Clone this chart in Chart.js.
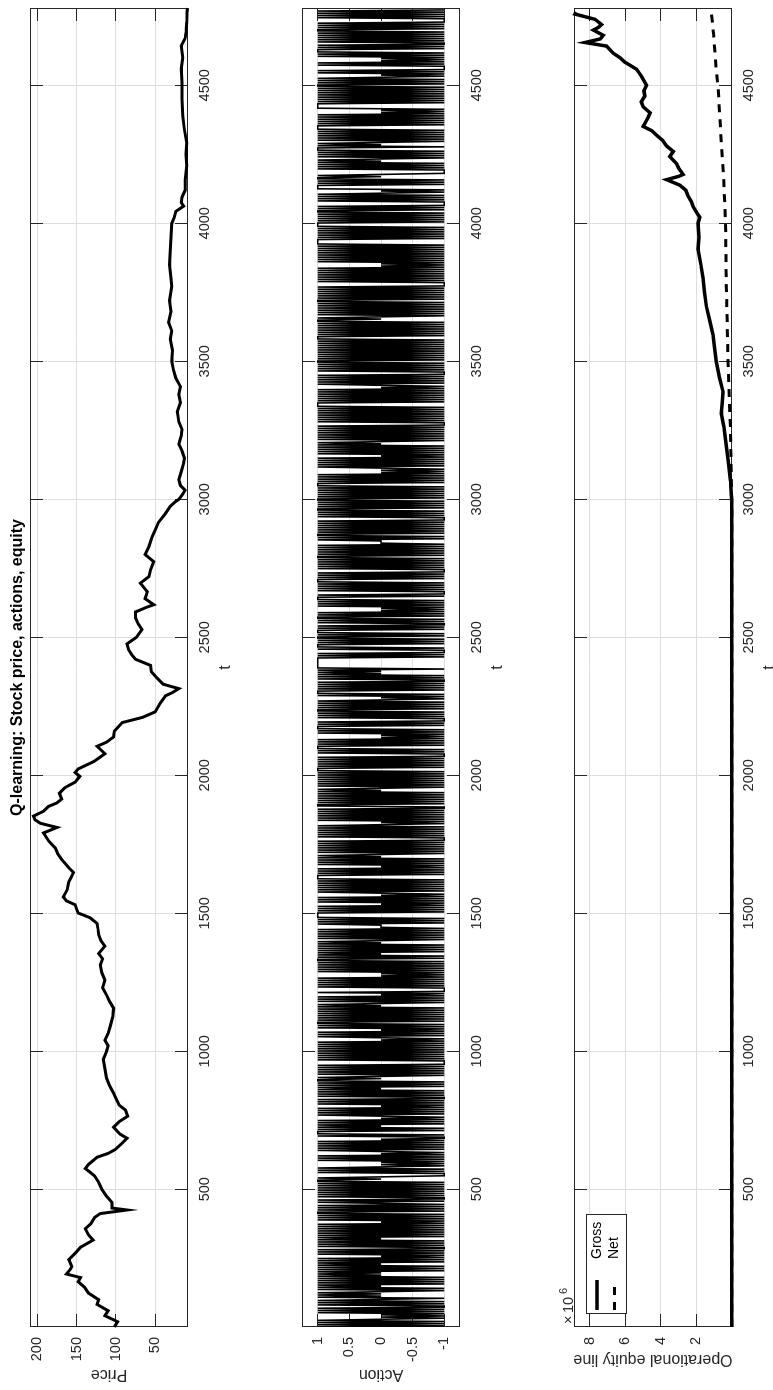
<!DOCTYPE html>
<html>
<head>
<meta charset="utf-8">
<script src="https://cdn.jsdelivr.net/npm/chart.js@4/dist/chart.umd.min.js"></script>
<style>
html,body{margin:0;padding:0;background:#fff;overflow:hidden;}
#page{position:relative;width:773px;height:1390px;overflow:hidden;background:#fff;}
#fig{position:absolute;left:0;top:0;width:1390px;height:773px;transform-origin:0 0;transform:translate(0,1390px) rotate(-90deg);background:#fff;}
#fig canvas{position:absolute;left:0;}
</style>
</head>
<body>
<div id="page"><div id="fig">
  <canvas id="cPrice" width="1390" height="272" style="top:0"></canvas>
  <canvas id="cAction" width="1390" height="272" style="top:272px"></canvas>
  <canvas id="cEquity" width="1390" height="229" style="top:544px"></canvas>
</div></div>
<script>
// time axis
const tMin = 1, tMax = 4780;
const tTicks = [500, 1000, 1500, 2000, 2500, 3000, 3500, 4000, 4500];

// stock price
const priceT = [1,20,42,60,83,100,124,145,165,180,193,210,220,245,268,290,316,335,357,375,398,412,425,432,452,475,500,525,548,562,575,590,616,630,644,665,685,700,725,745,765,787,805,830,848,875,903,935,971,1000,1020,1040,1065,1094,1125,1156,1180,1204,1230,1258,1285,1313,1335,1354,1381,1400,1422,1445,1463,1484,1501,1515,1531,1545,1559,1585,1613,1630,1648,1665,1695,1715,1736,1760,1791,1811,1826,1839,1852,1870,1887,1900,1914,1935,1955,1975,1996,2010,2023,2050,2078,2105,2120,2139,2160,2191,2210,2230,2260,2288,2300,2314,2330,2353,2375,2398,2420,2437,2455,2476,2500,2528,2550,2570,2592,2610,2618,2640,2665,2696,2720,2745,2774,2800,2830,2864,2890,2916,2945,2974,2990,3000,3015,3033,3050,3071,3100,3130,3149,3175,3200,3230,3253,3280,3318,3350,3380,3408,3440,3470,3500,3540,3580,3610,3641,3680,3720,3771,3800,3850,3900,3950,4000,4020,4043,4062,4075,4095,4120,4159,4208,4250,4292,4340,4389,4450,4510,4560,4600,4643,4670,4691,4730,4763,4780];
const priceV = [102,98,114,110,124,122,135,140,148,145,163,158,156,160,152,145,129,135,139,132,127,120,86,105,105,112,118,122,127,133,139,135,124,110,101,93,86,95,103,96,85,88,96,100,103,108,112,114,116,112,110,114,110,107,104,103,108,112,117,114,118,120,117,122,114,119,122,123,124,133,148,150,152,163,167,162,160,157,154,160,169,174,177,185,192,175,196,203,205,192,186,175,169,172,165,152,146,152,148,128,114,124,112,103,102,92,66,50,44,37,28,20,40,48,55,56,75,80,84,86,74,67,72,75,75,60,52,63,60,69,58,56,52,63,58,54,50,46,38,31,25,20,16,12,18,20,17,14,13,16,20,17,16,20,22,18,20,18,24,27,29,28,31,29,33,30,32,29,30,32,31,30,29,26,24,14,17,16,12,12,10,11,10,13,15,16,16,17,15,17,12,11,10,9.7,9];
const priceTicks = [50, 100, 150, 200];

// actions, one character per 4 time steps, one string per 500 steps ('+' = 1, '0' = 0, '-' = -1)
const actionBlocks = [
  '+-+-+-+0-0-0-+-+-+--+-+-+0-+0+0+0-+-+0+-+-+-+-+0+0+-+-+-+0+-+-+-0-+-+-+--+-+-+-+0+-+-+-+-+-+-+-0-+-+-+-++-+-+-+-0+-+--+-+-+-+',
  '-+-+-+-++0+0---+-+-+0-0-0-+-+-+-0-0+-+-+-+-+-0--+-+++-+-+0+-+-+-0-0+-+-+-+-0-+-+-+--+-+-+-+0+-+-+-++0+0-+-+-+-+-+----+-+-+-+-',
  '+-+-+-+-+-0-0+-+-+-0-+-+-++-+-+-+-+-+-+-+0+0-+-+-+-0-+----+-+-+-+-+-0-0-+-+-+-+-+-++-+-+0+-+-+-+-+0+0-+-+-+-+-+-000+-+-+-+',
  '+-+-+-+-0-+-+-+-0-0+-+-+-+-+-+-++++-+-+-+-0-+-+-+-+0+0-+-+-+-+-+-+---+-+-+-+-+-+0-0-+-+-+-+-+-+--++-+-+-+-+-+-+0+0-+-+-+-+-+-',
  '+-+-+++-+-+-+-+-+---+-+-+++-+-+-+-0-0-+-+-+++-+-+---+-+-+-++-+-+-+-+0-0-+-+++-+-+-+-+--+-+-+0+0+-++++++++++-+-+---+-+++-+-+-+',
  '+-+-+++-+-+--+-+-++-+-+-0-0-+-+-+-+++-+---+-+-+-+-+++-+-+-+---+-+-+-+-+-++-+-+-+-+-+-000+-+-++-+-+-+-+-+-+---+-+-+-++-+-+-+-+',
  '+-+-+-+-+-+-+++-+-+-+-+-0-0-0+-+-+-+-+-0-+-+-+-+-+0+0-+-+-+-+-+-+-+---+-+-+-+-+-+-+-++++-+-+-+-+-+-+-0-0+-+-+-+-+---+-+-+-+-+',
  '+-+-+-+-+-+-+-+-+-+-+++-+-+-+-+-+-+-++0+0-+-+-+-+-+-+-++-+-+-+-+-+-+----+-+-+-+-+-+-+-0-0-+-+-+-+-+-+-+-+-+++++-+-+-+-+-+-+',
  '+-+-+-+-+-++-+-+----+-+-+-+0-0-++++-+-+-++0+0----+-+-+-+0+0-+-+-+-+++-+0+0-+-+-+-+-+-++++-+-+-+-+-+-0-0-+++++-+-+-+-+-+-+-+-+',
  '+-+-+-+0-0-+-+----+-+-0-0-+-+-+++-+-+--+-+-+-+-+-++-+-+-+----+-+-+-+-'
];
const actionTicks = [-1, -0.5, 0, 0.5, 1];

// operational equity, in units of 10^6
const grossT = [1,2990,3066,3130,3195,3260,3311,3350,3389,3440,3499,3550,3596,3647,3699,3750,3802,3850,3906,3950,4000,4022,4040,4061,4080,4099,4120,4138,4158,4170,4177,4200,4216,4242,4260,4280,4300,4319,4335,4351,4384,4400,4422,4440,4461,4480,4500,4532,4558,4584,4600,4616,4642,4655,4668,4681,4700,4710,4720,4739,4758,4765];
const grossV = [0.02,0.02,0.09,0.2,0.32,0.45,0.6,0.55,0.5,0.7,0.88,0.98,1.07,1.25,1.44,1.55,1.63,1.75,1.91,1.85,1.91,1.81,2.0,2.19,2.3,2.47,2.6,2.93,3.68,3.0,2.75,3.0,3.12,3.5,3.3,3.68,3.9,4.24,4.5,4.99,4.71,4.6,4.99,5.1,4.9,4.95,4.8,5.08,5.36,6.02,6.3,6.67,7.05,8.26,7.4,7.23,7.79,7.5,7.33,7.7,8.82,8.75];
const netT = [1,3000,3260,3499,3777,4000,4164,4293,4500,4552,4681,4765];
const netV = [0.02,0.02,0.09,0.22,0.32,0.36,0.47,0.6,0.79,0.88,1.03,1.16];
const equityTicks = [2, 4, 6, 8];

const FONT = "'Liberation Sans', Arial, Helvetica, sans-serif";
const INK = '#262626';
const GRID = '#dedede';
const TICK_LEN = 13;

const pts = (ts, vs) => ts.map((t, i) => ({x: t, y: vs[i]}));
const actionPts = [];
actionBlocks.forEach((s, k) => {
  for (let j = 0; j < s.length; j++) {
    actionPts.push({x: 500 * k + 1 + 4 * j, y: s[j] === '+' ? 1 : s[j] === '-' ? -1 : 0});
  }
});

const alignPx = (p) => Math.round(p - 0.5) + 0.5;

function drawFrame(chart){
  const {ctx, chartArea: a, scales: {x, y}} = chart;
  ctx.save();
  ctx.strokeStyle = INK; ctx.lineWidth = 1;
  ctx.beginPath();
  x.ticks.forEach(t => {
    const px = alignPx(x.getPixelForValue(t.value));
    ctx.moveTo(px, a.bottom); ctx.lineTo(px, a.bottom - TICK_LEN);
    ctx.moveTo(px, a.top); ctx.lineTo(px, a.top + TICK_LEN);
  });
  y.ticks.forEach(t => {
    const py = alignPx(y.getPixelForValue(t.value));
    ctx.moveTo(a.left, py); ctx.lineTo(a.left + TICK_LEN, py);
    ctx.moveTo(a.right, py); ctx.lineTo(a.right - TICK_LEN, py);
  });
  ctx.stroke();
  ctx.strokeRect(alignPx(a.left), alignPx(a.top), Math.round(a.right) - Math.round(a.left) - 1, Math.round(a.bottom) - Math.round(a.top) - 1);
  ctx.restore();
}

function decor(o){
  return {
    id: 'decor',
    beforeDatasetsDraw(chart){ drawFrame(chart); },
    afterDraw(chart){
      const {ctx, chartArea: a} = chart;
      const midX = (a.left + a.right) / 2, midY = (a.top + a.bottom) / 2;
      ctx.save();
      ctx.fillStyle = INK;
      ctx.font = `16px ${FONT}`;
      ctx.textAlign = 'center'; ctx.textBaseline = 'alphabetic';
      ctx.fillText('t', midX, a.bottom + 42);
      ctx.save();
      ctx.translate(o.yLabelX, midY); ctx.rotate(-Math.PI / 2);
      ctx.fillText(o.yLabel, 0, 0);
      ctx.restore();
      if (o.title){
        ctx.fillStyle = '#000';
        ctx.font = `bold 16px ${FONT}`;
        ctx.fillText(o.title, midX, a.top - 8);
      }
      if (o.exponent){
        ctx.fillStyle = INK; ctx.textAlign = 'left';
        ctx.font = `14.5px ${FONT}`;
        ctx.fillText('\u00d7', a.left + 3, a.top - 1);
        ctx.fillText('10', a.left + 14, a.top - 1);
        ctx.font = `11px ${FONT}`;
        ctx.fillText('6', a.left + 33, a.top - 7);
      }
      if (o.legend){
        const lx = a.left + 13, ly = a.top + 12, lw = 99, lh = 40;
        ctx.fillStyle = '#fff'; ctx.fillRect(lx, ly, lw, lh);
        ctx.strokeStyle = INK; ctx.lineWidth = 1;
        ctx.strokeRect(lx + 0.5, ly + 0.5, lw, lh);
        chart.data.datasets.forEach((ds, i) => {
          const yy = ly + 11 + i * 17.5;
          ctx.strokeStyle = ds.borderColor; ctx.lineWidth = ds.borderWidth;
          ctx.setLineDash(ds.borderDash || []);
          ctx.beginPath(); ctx.moveTo(a.left + 17, yy); ctx.lineTo(a.left + 47, yy); ctx.stroke();
          ctx.setLineDash([]);
          ctx.fillStyle = '#000'; ctx.font = `14px ${FONT}`;
          ctx.textAlign = 'left'; ctx.textBaseline = 'middle';
          ctx.fillText(ds.label, a.left + 68, yy);
        });
      }
      ctx.restore();
    }
  };
}

function options(yMin, yMax, yTicks, canvasH){
  const tickFont = {family: FONT, size: 14.5};
  return {
    responsive: false, animation: false, devicePixelRatio: 1,
    layout: {padding: {top: 30, right: 8, left: 0, bottom: 0}},
    plugins: {legend: {display: false}, tooltip: {enabled: false}, title: {display: false}},
    elements: {point: {radius: 0}, line: {tension: 0}},
    scales: {
      x: {
        type: 'linear', min: tMin, max: tMax,
        afterBuildTicks: s => { s.ticks = tTicks.map(v => ({value: v})); },
        afterFit: s => { s.height = canvasH - 188; },
        grid: {color: GRID, drawTicks: false}, border: {display: false},
        ticks: {color: INK, font: tickFont, padding: 8, maxRotation: 0, autoSkip: false, callback: v => String(v)}
      },
      y: {
        type: 'linear', min: yMin, max: yMax,
        afterBuildTicks: s => { s.ticks = yTicks.map(v => ({value: v})); },
        afterFit: s => { s.width = 63; },
        grid: {color: GRID, drawTicks: false}, border: {display: false},
        ticks: {color: INK, font: tickFont, padding: 10, autoSkip: false, callback: v => String(v)}
      }
    }
  };
}

new Chart(document.getElementById('cPrice'), {
  type: 'line',
  data: {datasets: [{label: 'Price', data: pts(priceT, priceV), borderColor: '#000', borderWidth: 3, clip: 3}]},
  options: options(8.4, 209.3, priceTicks, 272),
  plugins: [decor({yLabel: 'Price', yLabelX: 20, title: 'Q-learning: Stock price, actions, equity'})]
});

new Chart(document.getElementById('cAction'), {
  type: 'line',
  data: {datasets: [{label: 'Action', data: actionPts, borderColor: '#000', borderWidth: 1.6}]},
  options: options(-1.25, 1.25, actionTicks, 272),
  plugins: [decor({yLabel: 'Action', yLabelX: 20})]
});

new Chart(document.getElementById('cEquity'), {
  type: 'line',
  data: {datasets: [
    {label: 'Gross', data: pts(grossT, grossV), borderColor: '#000', borderWidth: 3.5, clip: 3},
    {label: 'Net', data: pts(netT, netV), borderColor: '#000', borderWidth: 3, borderDash: [8, 7], clip: 3}
  ]},
  options: options(0, 8.88, equityTicks, 229),
  plugins: [decor({yLabel: 'Operational equity line', yLabelX: 35, exponent: true, legend: true})]
});
</script>
</body>
</html>
